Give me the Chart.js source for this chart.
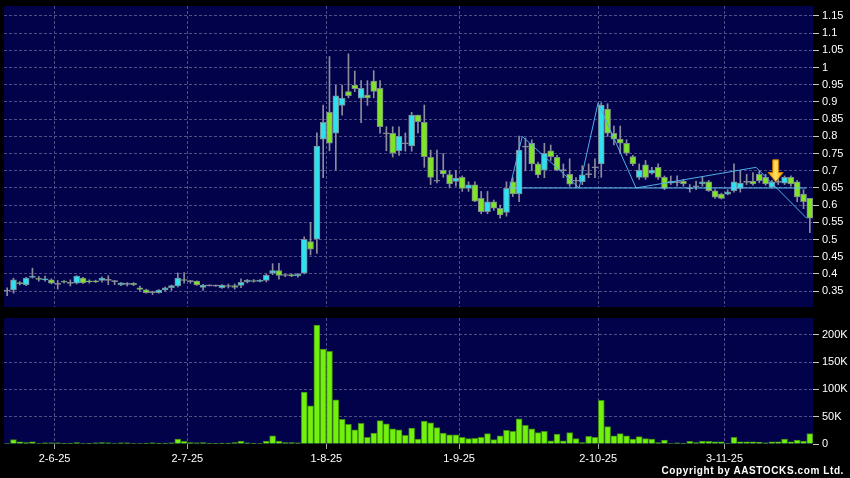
<!DOCTYPE html>
<html>
<head>
<meta charset="utf-8">
<script src="https://cdn.jsdelivr.net/npm/chart.js@4.4.1/dist/chart.umd.min.js"></script>
<style>
    html, body { margin: 0; padding: 0; background: #000; }
    body { width: 850px; height: 478px; position: relative; overflow: hidden; }
    #priceChart { position: absolute; left: 0; top: 0; }
    #volChart { position: absolute; left: 0; top: 310px; }
    #copyright {
        position: absolute; right: 6px; top: 465px; color: #fff;
        font: bold 10px 'Liberation Sans', Arial, sans-serif; letter-spacing: 0.6px;
    }
</style>
</head>
<body>
<canvas id="priceChart" width="850" height="312"></canvas>
<canvas id="volChart" width="850" height="168"></canvas>
<div id="copyright">Copyright by AASTOCKS.com Ltd.</div>
<script>
// Daily OHLC, one entry per trading day (21 May 2025 .. 20 Nov 2025)
const openV = [
    .352, .354, .375, .368, .390, .387, .383, .383, .371, .379, .374, .373, .388, .380, .380, .381,
    .383, .379, .368, .371, .373, .360, .354, .347, .346, .354, .360, .365, .383, .379, .379, .361,
    .367, .366, .360, .365, .366, .367, .377, .381, .378, .381, .402, .410, .397, .398, .394, .402,
    .494, .501, .792, .870, .809, .890, .930, .949, .911, .920, .961, .940, .809, .809, .758, .780,
    .772, .862, .841, .739, .671, .701, .689, .669, .681, .649, .659, .620, .581, .610, .591, .579,
    .668, .633, .770, .780, .720, .702, .758, .739, .702, .690, .671, .668, .690, .710, .720, .879,
    .809, .792, .780, .741, .681, .717, .693, .710, .681, .664, .667, .670, .649, .655, .662, .668,
    .642, .632, .632, .642, .649, .668, .669, .690, .681, .652, .668, .664, .681, .668, .632, .620
];
const highV = [
    .360, .388, .378, .390, .417, .393, .394, .386, .381, .381, .383, .395, .390, .383, .382, .392,
    .395, .381, .375, .375, .375, .365, .356, .350, .355, .362, .368, .403, .404, .381, .380, .370,
    .368, .368, .369, .371, .371, .386, .384, .384, .384, .400, .430, .431, .400, .400, .401, .508,
    .550, .810, .891, 1.032, .949, .949, 1.040, .990, .962, .962, .991, .962, .828, .828, .828, .810,
    .870, .862, .891, .760, .760, .750, .701, .701, .685, .668, .668, .640, .640, .615, .600, .668,
    .680, .801, .795, .790, .725, .780, .775, .745, .720, .735, .680, .715, .720, .735, .898, .895,
    .830, .830, .790, .745, .720, .730, .710, .720, .685, .685, .685, .675, .660, .670, .683, .672,
    .645, .635, .645, .720, .700, .690, .695, .700, .690, .672, .685, .685, .685, .672, .645, .620
];
const lowV = [
    .337, .344, .368, .366, .388, .379, .379, .371, .356, .373, .365, .371, .372, .373, .375, .376,
    .369, .369, .366, .365, .366, .350, .344, .340, .344, .350, .352, .362, .373, .373, .367, .352,
    .365, .364, .358, .359, .356, .360, .374, .376, .377, .377, .398, .385, .392, .392, .391, .400,
    .455, .460, .680, .758, .702, .862, .912, .930, .840, .890, .912, .809, .758, .740, .745, .757,
    .757, .810, .710, .660, .665, .681, .650, .655, .640, .640, .610, .575, .575, .585, .562, .568,
    .625, .610, .700, .700, .680, .680, .730, .700, .680, .655, .650, .660, .680, .680, .681, .800,
    .775, .750, .745, .715, .675, .675, .690, .675, .645, .660, .655, .655, .638, .645, .655, .640,
    .620, .618, .630, .638, .638, .660, .658, .665, .658, .650, .660, .660, .655, .610, .590, .520
];
const closeV = [
    .352, .383, .371, .388, .394, .384, .386, .373, .371, .376, .374, .394, .374, .377, .377, .388,
    .383, .379, .374, .371, .369, .355, .346, .347, .353, .360, .366, .388, .382, .379, .368, .368,
    .367, .366, .368, .365, .361, .376, .382, .378, .382, .396, .410, .396, .397, .394, .399, .501,
    .472, .772, .841, .780, .918, .911, .918, .939, .940, .912, .931, .828, .809, .751, .801, .780,
    .862, .843, .741, .681, .671, .691, .662, .679, .649, .659, .612, .581, .610, .591, .572, .649,
    .633, .760, .770, .720, .688, .751, .741, .702, .702, .661, .671, .688, .690, .710, .891, .809,
    .792, .780, .751, .720, .702, .681, .702, .681, .649, .669, .667, .662, .649, .655, .668, .642,
    .623, .620, .639, .668, .664, .668, .662, .671, .662, .668, .668, .681, .662, .624, .610, .562
];
// Volume in thousands of shares
const volK = [
    1, 8, 4, 2.5, 4, 1, 2, 2, 2, 0.5, 0.5, 2.5, 1, 0.5, 2, 2.5,
    2, 1, 2, 2, 1, 1, 0.5, 2, 0.5, 1.5, 2, 9, 5, 2.5, 2, 2.5,
    0.5, 0.5, 1.5, 1.5, 2.5, 5.5, 2, 0.5, 1, 5.5, 15, 5.5, 2.5, 2.5, 2, 95,
    70, 218, 174, 170, 81, 45, 36, 26, 38, 12, 20, 43, 37, 28, 26, 16,
    29, 9, 42, 39, 30, 20, 17, 17, 12, 10, 10.5, 12, 19, 8, 15, 25,
    23, 46, 34, 28, 21, 23, 6, 18, 6, 21, 10, 2.5, 14, 12, 80, 32,
    15, 19, 15, 9, 13.5, 10, 9, 2.5, 7, 1, 2, 0.5, 5, 2.5, 5.5, 5,
    4, 4, 1, 12, 4, 4, 4, 3, 2, 4, 4, 9, 4, 7, 5.5, 19
];

// Month boundaries (between trading days) and their labels
const dateTickPos = [7.5, 28.5, 50.5, 71.5, 93.5, 113.5];
const dateTickText = ['2-6-25', '2-7-25', '1-8-25', '1-9-25', '2-10-25', '3-11-25'];
const priceTicks = [0.35, 0.4, 0.45, 0.5, 0.55, 0.6, 0.65, 0.7, 0.75, 0.8, 0.85, 0.9, 0.95, 1, 1.05, 1.1, 1.15];
const volTicks = [0, 50, 100, 150, 200];

// Drawn pattern lines
const zigIdx = [79.5, 81.5, 90.5, 93.5, 99.5, 118.5, 126.5];
const zigVal = [0.65, 0.80, 0.65, 0.898, 0.65, 0.71, 0.562];
const supportIdx = [79.5, 126.5];
const supportVal = [0.65, 0.65];
const arrowIdx = 121.6;
const arrowTop = 0.732;
const arrowTip = 0.668;

const candleCount = openV.length;
const fontFamily = "'Liberation Sans', Arial, sans-serif";
const gridColor = '#4e4e86';
const upColor = '#2fe0ee';
const downColor = '#7fe428';
const flatColor = '#9a9aa6';

// navy plot background
const panelBg = {
    id: 'panelBg',
    beforeDraw(chart) {
        const a = chart.chartArea;
        const ctx = chart.ctx;
        ctx.save();
        ctx.fillStyle = '#02024a';
        ctx.fillRect(a.left, a.top, a.right - a.left, a.bottom - a.top);
        ctx.restore();
    }
};

// yellow signal arrow
const arrowMark = {
    id: 'arrowMark',
    afterDatasetsDraw(chart) {
        const ctx = chart.ctx;
        const x = chart.scales.x.getPixelForValue(arrowIdx);
        const yTop = chart.scales.y.getPixelForValue(arrowTop);
        const yTip = chart.scales.y.getPixelForValue(arrowTip);
        const yNeck = yTop + (yTip - yTop) * 0.58;
        ctx.save();
        ctx.beginPath();
        ctx.moveTo(x - 3, yTop);
        ctx.lineTo(x + 3, yTop);
        ctx.lineTo(x + 3, yNeck);
        ctx.lineTo(x + 7.5, yNeck);
        ctx.lineTo(x, yTip);
        ctx.lineTo(x - 7.5, yNeck);
        ctx.lineTo(x - 3, yNeck);
        ctx.closePath();
        const g = ctx.createLinearGradient(x - 7, 0, x + 7, 0);
        g.addColorStop(0, '#f0a800');
        g.addColorStop(0.5, '#ffe060');
        g.addColorStop(1, '#f0a800');
        ctx.fillStyle = g;
        ctx.fill();
        ctx.strokeStyle = '#c07800';
        ctx.lineWidth = 1;
        ctx.stroke();
        ctx.restore();
    }
};

function xAxis(showLabels) {
    return {
        type: 'linear',
        min: -0.5,
        max: candleCount - 0.5,
        bounds: 'data',
        offset: false,
        afterBuildTicks: function (s) {
            s.ticks = dateTickPos.map(v => ({ value: v }));
        },
        afterFit: function (s) {
            s.height = showLabels ? 34 : 5;
            s.paddingLeft = 0;
            s.paddingRight = 0;
        },
        grid: {
            offset: false,
            color: gridColor,
            drawTicks: showLabels,
            tickLength: 5,
            tickColor: '#a8a8a8',
            tickBorderDash: []
        },
        border: { display: false, dash: [3, 2] },
        ticks: {
            display: showLabels,
            color: '#ffffff',
            font: { family: fontFamily, size: 11 },
            padding: 3,
            maxRotation: 0,
            autoSkip: false,
            callback: function (value, index) {
                return dateTickText[index];
            }
        }
    };
}

function yAxis(min, max, tickList, fmt, zeroLine) {
    return {
        position: 'right',
        min: min,
        max: max,
        bounds: 'data',
        afterBuildTicks: function (s) {
            s.ticks = tickList.map(v => ({ value: v }));
        },
        afterFit: function (s) {
            s.width = 37;
            s.paddingTop = 0;
            s.paddingBottom = 0;
        },
        grid: {
            color: function (c) {
                return (!zeroLine && c.tick && c.tick.value === 0) ? 'rgba(0,0,0,0)' : gridColor;
            },
            tickLength: 6,
            tickColor: '#c8c8c8',
            tickBorderDash: []
        },
        border: { display: false, dash: [3, 2] },
        ticks: {
            color: '#ffffff',
            font: { family: fontFamily, size: 11 },
            padding: 3,
            callback: fmt
        }
    };
}

function candleColor(i) {
    if (closeV[i] > openV[i]) return upColor;
    if (closeV[i] < openV[i]) return downColor;
    return flatColor;
}

function bodyRange(i) {
    const lo = Math.min(openV[i], closeV[i]);
    const hi = Math.max(openV[i], closeV[i]);
    // keep doji visible as a thin bar
    if (hi - lo < 0.003) {
        const mid = (hi + lo) / 2;
        return [mid - 0.0015, mid + 0.0015];
    }
    return [lo, hi];
}

const idx = openV.map((v, i) => i);

new Chart(document.getElementById('priceChart'), {
    type: 'bar',
    data: {
        datasets: [{
            type: 'line',
            data: supportIdx.map((x, k) => ({ x: x, y: supportVal[k] })),
            borderColor: '#62c4f4',
            borderWidth: 1,
            pointRadius: 0,
            fill: false,
            order: 0
        }, {
            type: 'line',
            data: zigIdx.map((x, k) => ({ x: x, y: zigVal[k] })),
            borderColor: '#4eaee8',
            borderWidth: 1,
            pointRadius: 0,
            fill: false,
            order: 0
        }, {
            data: idx.map(i => ({ x: i, y: bodyRange(i) })),
            backgroundColor: idx.map(candleColor),
            borderColor: '#7e8890',
            borderWidth: 1,
            borderSkipped: false,
            barThickness: 6,
            grouped: false,
            order: 1
        }, {
            data: idx.map(i => ({ x: i, y: [lowV[i], highV[i]] })),
            backgroundColor: '#8c8c9c',
            borderWidth: 0,
            barThickness: 1,
            grouped: false,
            order: 2
        }]
    },
    options: {
        responsive: false,
        animation: false,
        devicePixelRatio: 1,
        layout: { padding: { left: 4, top: 6, right: 0, bottom: 0 } },
        plugins: { legend: { display: false }, tooltip: { enabled: false } },
        scales: {
            x: xAxis(false),
            y: yAxis(0.304, 1.179, priceTicks, v => String(+v.toFixed(2)), true)
        }
    },
    plugins: [panelBg, arrowMark]
});

new Chart(document.getElementById('volChart'), {
    type: 'bar',
    data: {
        datasets: [{
            data: idx.map(i => ({ x: i, y: volK[i] })),
            backgroundColor: '#72f00e',
            borderColor: '#3f8a12',
            borderWidth: 1,
            borderSkipped: 'bottom',
            barThickness: 6,
            grouped: false
        }]
    },
    options: {
        responsive: false,
        animation: false,
        devicePixelRatio: 1,
        layout: { padding: { left: 4, top: 8, right: 0, bottom: 0 } },
        plugins: { legend: { display: false }, tooltip: { enabled: false } },
        scales: {
            x: xAxis(true),
            y: yAxis(0, 231, volTicks, v => (v === 0 ? '0' : v + 'K'), false)
        }
    },
    plugins: [panelBg]
});
</script>
</body>
</html>
